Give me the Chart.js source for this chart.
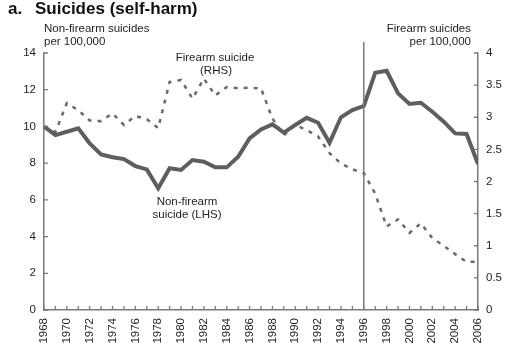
<!DOCTYPE html>
<html>
<head>
<meta charset="utf-8">
<title>Suicides (self-harm)</title>
<script src="https://cdn.jsdelivr.net/npm/chart.js@4/dist/chart.umd.min.js"></script>
<style>
  html, body { margin: 0; padding: 0; background: #fff; }
  #chart { display: block; }
</style>
</head>
<body>
<canvas id="chart" width="519" height="343"></canvas>
<script>
// ============================================================
// Data
// ============================================================

const YEARS = [
  1968, 1969, 1970, 1971, 1972, 1973, 1974, 1975, 1976, 1977,
  1978, 1979, 1980, 1981, 1982, 1983, 1984, 1985, 1986, 1987,
  1988, 1989, 1990, 1991, 1992, 1993, 1994, 1995, 1996, 1997,
  1998, 1999, 2000, 2001, 2002, 2003, 2004, 2005, 2006,
];

// Non-firearm suicides per 100,000 (left axis)
const NON_FIREARM = [
  10.0, 9.53, 9.71, 9.9, 9.08, 8.48, 8.32, 8.22, 7.84, 7.66,
  6.63, 7.72, 7.63, 8.17, 8.08, 7.77, 7.77, 8.35, 9.35, 9.84,
  10.11, 9.66, 10.08, 10.47, 10.2, 9.11, 10.5, 10.89, 11.11, 12.92,
  13.03, 11.8, 11.22, 11.29, 10.8, 10.26, 9.62, 9.59, 7.95,
];

// Firearm suicides per 100,000 (right axis)
const FIREARM = [
  2.84, 2.77, 3.22, 3.11, 2.95, 2.94, 3.06, 2.88, 3.02, 2.97,
  2.83, 3.55, 3.58, 3.29, 3.6, 3.34, 3.47, 3.45, 3.46, 3.45,
  2.98, 2.72, 2.88, 2.8, 2.7, 2.44, 2.28, 2.19, 2.13, 1.81,
  1.3, 1.41, 1.2, 1.35, 1.12, 1.0, 0.87, 0.75, 0.75,
];

const LEFT_TICKS = [0, 2, 4, 6, 8, 10, 12, 14];
const RIGHT_TICKS = [0, 0.5, 1, 1.5, 2, 2.5, 3, 3.5, 4];
const MARKER_YEAR = 1996;

// ============================================================
// Style
// ============================================================

const FONT = '"Liberation Sans", Arial, Helvetica, sans-serif';
const FONT_SIZE = 11.5;
const AXIS_COLOR = '#7a7a7a';
const LINE_COLOR = '#5e5e5e';
const TEXT_COLOR = '#1e1e1e';

// ============================================================
// Plugins
// ============================================================

// inward tick marks on all three axes, plus the 1996 divider
const axisMarks = {
  id: 'axisMarks',
  afterDatasetsDraw(chart) {
    const { ctx, chartArea, scales } = chart;
    const { x, yL, yR } = scales;
    ctx.save();
    ctx.strokeStyle = AXIS_COLOR;
    ctx.lineWidth = 1.3;
    ctx.beginPath();
    YEARS.forEach(yr => {
      const px = x.getPixelForValue(yr);
      ctx.moveTo(px, chartArea.bottom);
      ctx.lineTo(px, chartArea.bottom - 4);
    });
    LEFT_TICKS.forEach(v => {
      const py = yL.getPixelForValue(v);
      ctx.moveTo(chartArea.left, py);
      ctx.lineTo(chartArea.left + 4, py);
    });
    RIGHT_TICKS.forEach(v => {
      const py = yR.getPixelForValue(v);
      ctx.moveTo(chartArea.right, py);
      ctx.lineTo(chartArea.right - 4, py);
    });
    ctx.stroke();

    const mx = x.getPixelForValue(MARKER_YEAR);
    ctx.lineWidth = 1.5;
    ctx.beginPath();
    ctx.moveTo(mx, 42);
    ctx.lineTo(mx, chartArea.bottom);
    ctx.stroke();
    ctx.restore();
  },
};

// headline, axis titles and series labels
const textLayer = {
  id: 'textLayer',
  afterDraw(chart) {
    const { ctx } = chart;
    ctx.save();
    ctx.fillStyle = '#111';
    ctx.textBaseline = 'alphabetic';
    ctx.font = `bold 17px ${FONT}`;
    ctx.textAlign = 'left';
    ctx.fillText('a.', 8, 14);
    ctx.fillText('Suicides (self-harm)', 35, 14);

    ctx.fillStyle = TEXT_COLOR;
    ctx.font = `${FONT_SIZE}px ${FONT}`;
    ctx.fillText('Non-firearm suicides', 44, 32);
    ctx.fillText('per 100,000', 44, 45);

    ctx.textAlign = 'right';
    ctx.fillText('Firearm suicides', 471, 32);
    ctx.fillText('per 100,000', 471, 45);

    ctx.textAlign = 'center';
    ctx.fillText('Firearm suicide', 215, 61);
    ctx.fillText('(RHS)', 216, 74);
    ctx.fillText('Non-firearm', 187, 205);
    ctx.fillText('suicide (LHS)', 187, 218);
    ctx.restore();
  },
};

// ============================================================
// Chart
// ============================================================

function toPoints(values) {
  return YEARS.map((yr, i) => ({ x: yr, y: values[i] }));
}

const tickFont = { family: FONT, size: FONT_SIZE };

function buildChart() {
  const canvas = document.getElementById('chart');
  return new Chart(canvas, {
    type: 'line',
    data: {
      datasets: [
        {
          label: 'Non-firearm suicide (LHS)',
          data: toPoints(NON_FIREARM),
          yAxisID: 'yL',
          borderColor: LINE_COLOR,
          borderWidth: 4,
          pointRadius: 0,
          tension: 0,
          borderJoinStyle: 'miter',
        },
        {
          label: 'Firearm suicide (RHS)',
          data: toPoints(FIREARM),
          yAxisID: 'yR',
          borderColor: '#6a6a6a',
          borderWidth: 2.5,
          borderDash: [4, 6],
          pointRadius: 0,
          tension: 0,
        },
      ],
    },
    options: {
      responsive: false,
      animation: false,
      devicePixelRatio: 1,
      layout: { padding: { top: 53, left: 0, right: 0, bottom: 0 } },
      plugins: {
        legend: { display: false },
        tooltip: { enabled: false },
        title: { display: false },
      },
      scales: {
        x: {
          type: 'linear',
          min: 1968,
          max: 2006,
          grid: { display: false, drawTicks: false },
          border: { display: true, color: AXIS_COLOR, width: 1.5 },
          ticks: {
            stepSize: 2,
            autoSkip: false,
            minRotation: 90,
            maxRotation: 90,
            padding: 8,
            color: TEXT_COLOR,
            font: tickFont,
            callback: v => String(v),
          },
          afterFit: scale => { scale.height = 33; },
        },
        yL: {
          position: 'left',
          min: 0,
          max: 14,
          grid: { display: false, drawTicks: false },
          border: { display: true, color: AXIS_COLOR, width: 1.5 },
          ticks: {
            stepSize: 2,
            padding: 8,
            color: TEXT_COLOR,
            font: tickFont,
            callback: v => String(v),
          },
          afterFit: scale => { scale.width = 44; },
        },
        yR: {
          position: 'right',
          min: 0,
          max: 4,
          grid: { display: false, drawTicks: false },
          border: { display: true, color: AXIS_COLOR, width: 1.5 },
          ticks: {
            stepSize: 0.5,
            padding: 8,
            color: TEXT_COLOR,
            font: tickFont,
            callback: v => String(v),
          },
          afterFit: scale => { scale.width = 41; },
        },
      },
    },
    plugins: [axisMarks, textLayer],
  });
}

document.addEventListener('DOMContentLoaded', buildChart);
</script>
</body>
</html>
